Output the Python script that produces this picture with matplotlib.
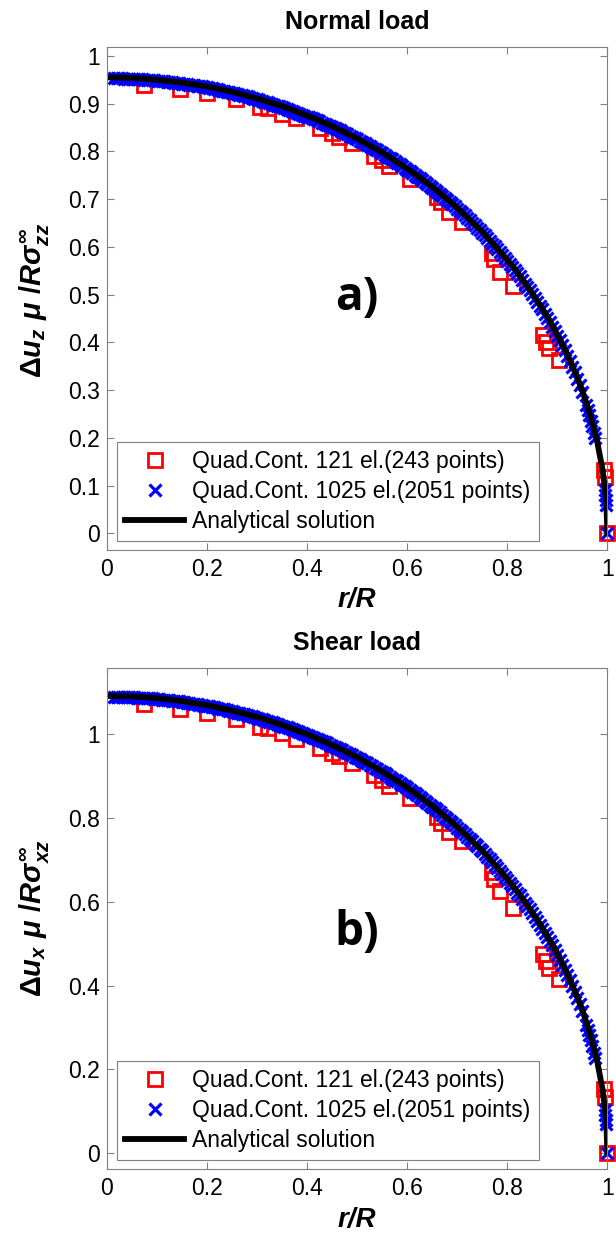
import matplotlib
matplotlib.use("Agg")
import matplotlib.pyplot as plt

plt.rcParams['font.family'] = ['Liberation Sans', 'DejaVu Sans']
plt.rcParams['mathtext.fontset'] = 'custom'
plt.rcParams['mathtext.it'] = 'Liberation Sans:italic:bold'
plt.rcParams['mathtext.rm'] = 'Liberation Sans:bold'
plt.rcParams['mathtext.bf'] = 'Liberation Sans:bold'

# analytical solution
r_line = [0, 0.05, 0.1, 0.15, 0.2, 0.25, 0.3, 0.35, 0.4, 0.45, 0.5, 0.55, 0.6, 0.65, 0.7,
          0.75, 0.8, 0.82, 0.84, 0.86, 0.88, 0.9, 0.92, 0.94, 0.95, 0.96, 0.97, 0.98,
          0.99, 0.995, 0.998, 1.0]
normal_line = [0.955, 0.954, 0.950, 0.944, 0.936, 0.925, 0.911, 0.895, 0.875, 0.853, 0.827,
               0.798, 0.764, 0.726, 0.682, 0.632, 0.573, 0.547, 0.518, 0.487, 0.454, 0.416,
               0.374, 0.326, 0.298, 0.267, 0.232, 0.190, 0.135, 0.095, 0.060, 0.0]
shear_line = [1.091, 1.090, 1.086, 1.079, 1.069, 1.056, 1.041, 1.022, 1.000, 0.974, 0.945,
              0.911, 0.873, 0.829, 0.779, 0.722, 0.655, 0.624, 0.592, 0.557, 0.518, 0.476,
              0.428, 0.372, 0.341, 0.305, 0.265, 0.217, 0.154, 0.109, 0.069, 0.0]

# coarse mesh, 121 elements (red squares)
r_red = [0.075, 0.147, 0.201, 0.259, 0.306, 0.322, 0.351, 0.379, 0.426, 0.449, 0.464, 0.490,
         0.533, 0.549, 0.564, 0.605, 0.659, 0.667, 0.684, 0.710, 0.769, 0.774, 0.786, 0.812,
         0.872, 0.878, 0.884, 0.904, 0.994, 0.996, 1.0]
normal_red = [0.939, 0.930, 0.922, 0.909, 0.892, 0.890, 0.878, 0.869, 0.850, 0.838, 0.831,
              0.817, 0.791, 0.782, 0.769, 0.742, 0.704, 0.693, 0.672, 0.653, 0.588, 0.574,
              0.548, 0.519, 0.415, 0.400, 0.388, 0.364, 0.133, 0.117, 0.0]
shear_red = [1.071, 1.061, 1.051, 1.035, 1.018, 1.015, 1.002, 0.989, 0.968, 0.956, 0.948,
             0.932, 0.902, 0.891, 0.876, 0.847, 0.803, 0.789, 0.767, 0.745, 0.670, 0.654,
             0.626, 0.586, 0.475, 0.458, 0.443, 0.415, 0.152, 0.133, 0.0]

# fine mesh, 1025 elements (blue crosses)
r_blue = [0.015, 0.02, 0.03, 0.04, 0.05, 0.06, 0.07, 0.08, 0.09, 0.10,
          0.11, 0.12, 0.13, 0.14, 0.15, 0.16, 0.17, 0.18, 0.19, 0.20,
          0.21, 0.22, 0.23, 0.24, 0.25, 0.26, 0.27, 0.28, 0.29, 0.30,
          0.31, 0.32, 0.33, 0.34, 0.35, 0.36, 0.37, 0.38, 0.39, 0.40,
          0.41, 0.42, 0.43, 0.44, 0.45, 0.46, 0.47, 0.48, 0.49, 0.50,
          0.51, 0.52, 0.53, 0.54, 0.55, 0.56, 0.57, 0.58, 0.59, 0.60,
          0.61, 0.62, 0.63, 0.64, 0.65, 0.66, 0.67, 0.68, 0.69, 0.70,
          0.71, 0.72, 0.73, 0.74, 0.75, 0.76, 0.77, 0.78, 0.79, 0.80,
          0.805, 0.81, 0.815, 0.82, 0.825, 0.83, 0.835, 0.84, 0.845, 0.85,
          0.855, 0.86, 0.865, 0.87, 0.875, 0.88, 0.885, 0.89, 0.895, 0.90,
          0.905, 0.91, 0.915, 0.92, 0.925, 0.93, 0.935, 0.94, 0.945, 0.95,
          0.958, 0.961, 0.964, 0.967, 0.970, 0.973, 0.975,
          0.995, 0.996, 0.997, 0.997, 1.0]
normal_blue = [0.953, 0.953, 0.953, 0.952, 0.952, 0.951, 0.951, 0.950, 0.949, 0.948,
               0.947, 0.946, 0.945, 0.944, 0.942, 0.941, 0.939, 0.937, 0.936, 0.934,
               0.932, 0.930, 0.927, 0.925, 0.923, 0.920, 0.918, 0.915, 0.912, 0.909,
               0.906, 0.903, 0.900, 0.896, 0.893, 0.889, 0.885, 0.881, 0.877, 0.873,
               0.869, 0.865, 0.860, 0.856, 0.851, 0.846, 0.841, 0.836, 0.830, 0.825,
               0.819, 0.814, 0.808, 0.802, 0.796, 0.789, 0.783, 0.776, 0.769, 0.762,
               0.755, 0.747, 0.740, 0.732, 0.724, 0.715, 0.707, 0.698, 0.689, 0.680,
               0.670, 0.661, 0.651, 0.640, 0.630, 0.619, 0.607, 0.596, 0.583, 0.571,
               0.565, 0.558, 0.551, 0.545, 0.538, 0.531, 0.523, 0.516, 0.509, 0.501,
               0.493, 0.485, 0.477, 0.469, 0.460, 0.452, 0.443, 0.433, 0.424, 0.414,
               0.404, 0.394, 0.383, 0.372, 0.361, 0.349, 0.337, 0.324, 0.310, 0.296,
               0.268, 0.258, 0.248, 0.236, 0.224, 0.210, 0.200,
               0.090, 0.080, 0.070, 0.060, 0.0]
shear_blue = [1.089, 1.089, 1.088, 1.088, 1.088, 1.087, 1.086, 1.085, 1.085, 1.084,
              1.082, 1.081, 1.080, 1.078, 1.077, 1.075, 1.073, 1.071, 1.069, 1.067,
              1.065, 1.062, 1.060, 1.057, 1.054, 1.051, 1.048, 1.045, 1.042, 1.039,
              1.035, 1.032, 1.028, 1.024, 1.020, 1.016, 1.012, 1.007, 1.003, 0.998,
              0.993, 0.988, 0.983, 0.978, 0.972, 0.967, 0.961, 0.955, 0.949, 0.943,
              0.936, 0.930, 0.923, 0.916, 0.909, 0.902, 0.894, 0.887, 0.879, 0.871,
              0.863, 0.854, 0.845, 0.836, 0.827, 0.818, 0.808, 0.798, 0.788, 0.777,
              0.766, 0.755, 0.744, 0.732, 0.720, 0.707, 0.694, 0.681, 0.667, 0.653,
              0.645, 0.638, 0.630, 0.622, 0.615, 0.607, 0.598, 0.590, 0.582, 0.573,
              0.564, 0.555, 0.545, 0.536, 0.526, 0.516, 0.506, 0.496, 0.485, 0.474,
              0.462, 0.450, 0.438, 0.426, 0.413, 0.399, 0.385, 0.370, 0.355, 0.339,
              0.306, 0.295, 0.283, 0.270, 0.256, 0.240, 0.228,
              0.103, 0.091, 0.080, 0.069, 0.0]

# more fine-mesh nodes lying between the rings above
r_blue2 = [0.025, 0.035, 0.045, 0.055, 0.065, 0.075, 0.085, 0.095, 0.105, 0.115,
           0.125, 0.135, 0.145, 0.155, 0.165, 0.175, 0.185, 0.195, 0.205, 0.215,
           0.225, 0.235, 0.245, 0.255, 0.265, 0.275, 0.285, 0.295, 0.305, 0.315,
           0.325, 0.335, 0.345, 0.355, 0.365, 0.375, 0.385, 0.395, 0.405, 0.415,
           0.425, 0.435, 0.445, 0.455, 0.465, 0.475, 0.485, 0.495, 0.505, 0.515,
           0.525, 0.535, 0.545, 0.555, 0.565, 0.575, 0.585, 0.595, 0.605, 0.615,
           0.625, 0.635, 0.645, 0.655, 0.665, 0.675, 0.685, 0.695, 0.705, 0.715,
           0.725, 0.735, 0.745, 0.755, 0.765, 0.775, 0.785, 0.795]
normal_blue2 = [0.953, 0.952, 0.952, 0.952, 0.951, 0.950, 0.950, 0.949, 0.948, 0.947,
                0.946, 0.944, 0.943, 0.942, 0.940, 0.938, 0.937, 0.935, 0.933, 0.931,
                0.929, 0.926, 0.924, 0.922, 0.919, 0.916, 0.913, 0.910, 0.908, 0.904,
                0.901, 0.898, 0.895, 0.891, 0.887, 0.883, 0.879, 0.875, 0.871, 0.867,
                0.863, 0.858, 0.853, 0.849, 0.844, 0.838, 0.833, 0.828, 0.822, 0.817,
                0.811, 0.805, 0.799, 0.793, 0.786, 0.780, 0.773, 0.766, 0.758, 0.751,
                0.744, 0.736, 0.728, 0.720, 0.711, 0.703, 0.694, 0.685, 0.675, 0.666,
                0.656, 0.646, 0.635, 0.625, 0.613, 0.602, 0.590, 0.577]
shear_blue2 = [1.089, 1.088, 1.088, 1.088, 1.087, 1.086, 1.085, 1.084, 1.083, 1.082,
               1.081, 1.079, 1.078, 1.076, 1.074, 1.072, 1.070, 1.068, 1.066, 1.064,
               1.061, 1.059, 1.056, 1.053, 1.050, 1.047, 1.044, 1.041, 1.037, 1.034,
               1.030, 1.026, 1.022, 1.018, 1.014, 1.010, 1.005, 1.001, 0.996, 0.991,
               0.986, 0.981, 0.975, 0.970, 0.964, 0.958, 0.952, 0.946, 0.940, 0.933,
               0.927, 0.920, 0.913, 0.906, 0.898, 0.891, 0.883, 0.875, 0.867, 0.859,
               0.850, 0.841, 0.832, 0.823, 0.813, 0.803, 0.793, 0.783, 0.772, 0.761,
               0.750, 0.738, 0.726, 0.714, 0.701, 0.688, 0.674, 0.660]

x_ticks = [0, 0.2, 0.4, 0.6, 0.8, 1]
normal_yticks = [0, 0.1, 0.2, 0.3, 0.4, 0.5, 0.6, 0.7, 0.8, 0.9, 1]
shear_yticks = [0, 0.2, 0.4, 0.6, 0.8, 1]

GRAY = '#808080'
W, H = 616, 1237

fig = plt.figure(figsize=(W / 100, H / 100), dpi=100)
ax1 = fig.add_axes([106.7 / W, 1 - 550 / H, 500.7 / W, 502.7 / H])
ax2 = fig.add_axes([106.7 / W, 1 - 1168.7 / H, 500.7 / W, 500.4 / H])


def panel(ax, yred, yblue, yblue2, yline, ylim, yticks, title, tag, tag_y, leg_y):
    ax.plot(r_red, yred, 's', mfc='none', mec='red', ms=10.5, mew=2.0, clip_on=False,
            label='Quad.Cont. 121 el.(243 points)')
    ax.plot(r_blue, yblue, 'x', color='blue', ms=8.5, mew=2.3, clip_on=False,
            label='Quad.Cont. 1025 el.(2051 points)')
    ax.plot(r_blue2, yblue2, 'x', color='blue', ms=8.5, mew=2.3)
    ax.plot(r_line, yline, '-', color='black', lw=4.2, label='Analytical solution')
    ax.set_xlim(0, 1)
    ax.set_ylim(*ylim)
    ax.set_xticks(x_ticks)
    ax.set_xticklabels(['0', '0.2', '0.4', '0.6', '0.8', '1'])
    ax.set_yticks(yticks)
    ax.set_yticklabels(['%g' % v for v in yticks])
    ax.tick_params(direction='in', length=5, width=0.8, color=GRAY, top=True, right=True,
                   labelsize=16.5)
    ax.tick_params(axis='x', pad=6)
    ax.tick_params(axis='y', pad=5)
    for s in ax.spines.values():
        s.set_color(GRAY)
        s.set_linewidth(0.8)
    ax.set_title(title, fontsize=18, fontweight='bold', pad=13.5)
    ax.text(0.5, tag_y, tag, ha='center', va='baseline', fontsize=33,
            fontweight='bold', family=['Open Sans', 'DejaVu Sans'])
    leg = ax.legend(loc='lower left', bbox_to_anchor=(0.02, leg_y), fancybox=False,
                    edgecolor=GRAY, framealpha=1, fontsize=16.5, handlelength=2.6,
                    handletextpad=0.35, borderpad=0.35, labelspacing=0.3, borderaxespad=0)
    leg.get_frame().set_linewidth(0.8)


panel(ax1, normal_red, normal_blue, normal_blue2, normal_line, (-0.035, 1.018),
      normal_yticks, 'Normal load', 'a)', 0.468, 0.0185)
panel(ax2, shear_red, shear_blue, shear_blue2, shear_line, (-0.037, 1.157),
      shear_yticks, 'Shear load', 'b)', 0.497, 0.0174)

fig.text(357 / W, 1 - 600 / H, 'r/R', ha='center', va='center', fontsize=20,
         fontweight='bold', fontstyle='italic')
fig.text(357 / W, 1 - 1220 / H, 'r/R', ha='center', va='center', fontsize=20,
         fontweight='bold', fontstyle='italic')
fig.text(34 / W, 1 - 300 / H, r'$\Delta u_z\ \mu\ /R\sigma^{\infty}_{zz}$',
         rotation=90, ha='center', va='center', fontsize=21)
fig.text(34 / W, 1 - 918 / H, r'$\Delta u_x\ \mu\ /R\sigma^{\infty}_{xz}$',
         rotation=90, ha='center', va='center', fontsize=21)

fig.savefig('out.png', dpi=100)
